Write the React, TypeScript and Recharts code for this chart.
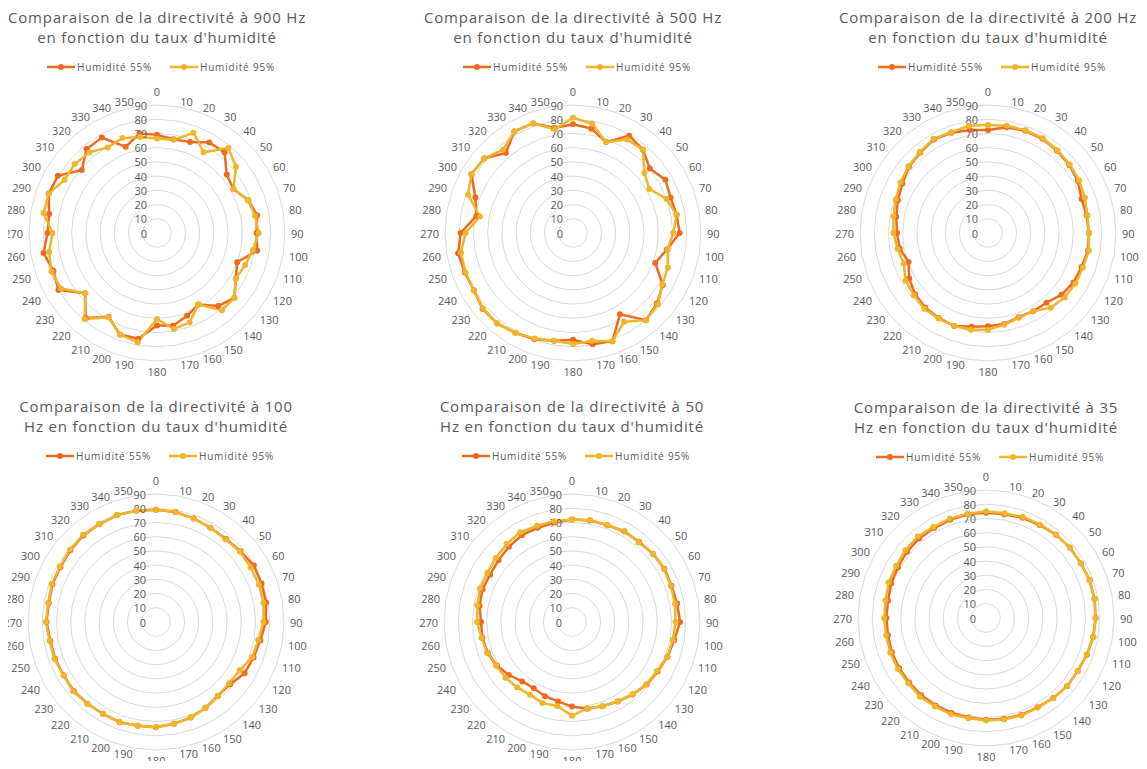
import React from "react";
import {
  RadarChart,
  Radar,
  PolarGrid,
  PolarAngleAxis,
  PolarRadiusAxis,
} from "recharts";

const ORANGE = "#EE6A1E";
const GOLD = "#EFB52B";
const TEXT = "#595959";
const GRID = "#d9d9d9";
const FONT = "'Open Sans', sans-serif";

const angleLabels = [
  "0", "10", "20", "30", "40", "50", "60", "70", "80", "90", "100", "110",
  "120", "130", "140", "150", "160", "170", "180", "190", "200", "210", "220", "230",
  "240", "250", "260", "270", "280", "290", "300", "310", "320", "330", "340", "350",
];
const radiusTicks = [0, 10, 20, 30, 40, 50, 60, 70, 80, 90];
const seriesNames = ["Humidité 55%", "Humidité 95%"];

// niveaux mesurés (dB) tous les 10°, pour chaque fréquence
const h55_900 = [69, 67, 68, 73.5, 74, 64, 62, 68, 71.5, 70, 71.5, 60, 64, 71, 67, 58, 62, 66, 65, 75.5, 76, 68, 78, 66, 80, 77.5, 81, 77, 77, 81, 80.5, 69, 77, 77.5, 64.5, 71];
const h95_900 = [66.5, 66.5, 75, 65.5, 78, 72.5, 62, 68, 70, 71.5, 68.5, 66, 64, 71, 71, 58, 67, 68.5, 60.5, 78, 76, 68.5, 79, 66, 78, 79, 77, 73.5, 81, 81, 75, 75.5, 74, 69.5, 71, 68.5];

const h55_500 = [76.5, 74.5, 68, 79, 76.5, 70.5, 75, 73, 74, 75, 67, 61.5, 73, 77, 80, 66, 81, 79.5, 75, 77, 79.5, 81, 83, 83, 80.5, 81, 82, 79, 69, 73, 82.5, 81.5, 73.5, 82.5, 82, 75];
const h95_500 = [81, 78, 68, 76, 76.5, 65.5, 62, 70, 74, 70.5, 67.5, 71, 72.5, 78, 80, 72, 81, 77, 78, 77, 79, 81, 83, 82.5, 80.5, 80.5, 80, 75.5, 66.5, 78.5, 82.5, 81.5, 76.5, 82.5, 82, 74];

const h55_200 = [72.5, 75.5, 76.5, 76.5, 75.5, 74.5, 73, 70, 70.5, 71, 71.5, 70, 69.5, 67.5, 64, 63.5, 63, 65, 65.5, 67, 69.5, 69, 68.5, 67, 64, 59.5, 63, 64, 65.5, 67.5, 69.5, 72.5, 74, 76, 75, 73.5];
const h95_200 = [76, 76.5, 77, 77, 76, 75, 74, 72.5, 71, 71, 72, 71, 71, 70.5, 68.5, 63.5, 63.5, 65.5, 68, 69, 69.5, 69.5, 69.5, 68, 67, 63, 64.5, 66.5, 67.5, 69, 71, 73, 74.5, 76.5, 75.5, 76.5];

const h55_100 = [79, 78.5, 77.5, 76.5, 76.5, 77.5, 79.4, 79, 78.6, 77.2, 74.5, 73, 72, 68, 67.7, 69.6, 71.5, 72.6, 74, 74, 75, 74.5, 75, 75.5, 75, 75.5, 75.5, 77, 76.5, 77.5, 77.5, 78.5, 79.5, 79.5, 80, 79.5];
const h95_100 = [79, 78.5, 77.5, 76.5, 76, 77, 76.8, 77, 76.8, 75.6, 73, 72, 68, 67, 67.7, 69.6, 71.5, 72.6, 74, 74, 75, 74.5, 75, 76, 75, 76, 76, 77.5, 77, 78, 78, 79, 80, 79.6, 80, 79.6];

const h55_50 = [72, 72.5, 72.5, 73.5, 73.5, 74.5, 75, 74.5, 75, 76, 73, 71.5, 69.5, 68.5, 66.5, 64.5, 63, 62, 59.5, 56.7, 55.5, 53.8, 54.5, 58, 61, 63, 64, 64, 66, 67, 66.5, 67.5, 69, 70.5, 70.5, 71];
const h95_50 = [72, 72.8, 72.6, 73.8, 73, 74.5, 74.7, 74, 73.5, 72.8, 72, 71.2, 69, 68.2, 66.3, 64.4, 63, 61.5, 66, 60, 60.7, 59, 60, 61, 61.6, 63.5, 64.6, 66.7, 67.6, 68.8, 68.8, 70, 71.6, 72.8, 72, 72];

const h55_35 = [74, 74, 75, 75.5, 76.5, 77, 77, 77.5, 77.5, 77, 76.5, 75.5, 74.5, 74.5, 73.5, 72.5, 72.5, 72, 71.5, 71, 71, 71, 71, 70.5, 70.5, 70.5, 70, 70, 70, 71, 71.5, 72.5, 73, 73, 73.5, 74];
const h95_35 = [75, 74.8, 75.6, 76, 76.7, 77, 77, 77.7, 77.5, 77.2, 76.8, 75.4, 74.4, 74.6, 73.6, 72.6, 73, 72.4, 72, 71.6, 72.1, 71.8, 72.2, 71.3, 71.6, 71.6, 71.3, 71.6, 71.7, 72.8, 73, 74, 74.7, 74, 74.4, 74.5];

type PanelProps = {
  title: string[];
  s55: number[];
  s95: number[];
  cx: number;
  cy: number;
  top: number;
  titleY: number;
  legendY: number;
};

const W = 380;
const H = 385;
const OUTER = 128;

function LegendItem({ color, label }: { color: string; label: string }) {
  return (
    <span style={{ display: "flex", alignItems: "center" }}>
      <svg width={28} height={10}>
        <line x1={0} y1={5} x2={28} y2={5} stroke={color} strokeWidth={2.5} />
        <circle cx={14} cy={5} r={3} fill={color} />
      </svg>
      <span style={{ marginLeft: 2 }}>{label}</span>
    </span>
  );
}

const marker = (color: string) => (p: any) => (
  <circle key={`${color}-${p.index}`} cx={p.cx} cy={p.cy} r={3} fill={color} />
);

function Panel({ title, s55, s95, cx, cy, top, titleY, legendY }: PanelProps) {
  const left = cx - W / 2;
  const ccx = W / 2;
  const ccy = cy - top;
  const data = angleLabels.map((a, i) => ({ angle: a, h55: s55[i], h95: s95[i] }));

  // labels sit just outside the outer ring, side ones anchored against it
  const angleTick = (p: any) => {
    const dx = p.x - ccx;
    const dy = p.y - ccy;
    const len = Math.hypot(dx, dy) || 1;
    const ux = dx / len;
    const uy = dy / len;
    const anchor = ux > 0.05 ? "start" : ux < -0.05 ? "end" : "middle";
    const r = anchor !== "middle" ? OUTER + 6 : uy < 0 ? OUTER + 14 : OUTER + 10;
    return (
      <text
        x={ccx + ux * r}
        y={ccy + uy * r}
        textAnchor={anchor}
        dominantBaseline="central"
        fontSize={11}
        fill={TEXT}
        fontFamily={FONT}
      >
        {p.payload.value}
      </text>
    );
  };

  const radiusTick = (p: any) => (
    <text
      x={p.x - 10}
      y={p.y}
      textAnchor="end"
      dominantBaseline="central"
      fontSize={11}
      fill={TEXT}
      fontFamily={FONT}
    >
      {p.payload.value}
    </text>
  );

  return (
    <div style={{ position: "absolute", left, top, width: W, height: H }}>
      <div
        style={{
          position: "absolute",
          left: 0,
          top: titleY - top - 10,
          width: W,
          textAlign: "center",
          fontSize: 15,
          lineHeight: "20px",
          letterSpacing: 0.8,
          color: TEXT,
        }}
      >
        {title.map((t) => (
          <div key={t}>{t}</div>
        ))}
      </div>
      <div
        style={{
          position: "absolute",
          left: 4,
          top: legendY - top - 7,
          width: W,
          height: 14,
          display: "flex",
          justifyContent: "center",
          gap: 18,
          fontSize: 10,
          lineHeight: "14px",
          letterSpacing: 0.8,
          color: TEXT,
        }}
      >
        <LegendItem color={ORANGE} label={seriesNames[0]} />
        <LegendItem color={GOLD} label={seriesNames[1]} />
      </div>
      <div style={{ position: "absolute", left: 0, top: 0 }}>
        <RadarChart
          width={W}
          height={H}
          cx={ccx}
          cy={ccy}
          outerRadius={OUTER}
          data={data}
          margin={{ top: 0, right: 0, bottom: 0, left: 0 }}
        >
          <PolarGrid radialLines={false} stroke={GRID} />
          <PolarAngleAxis
            dataKey="angle"
            tickLine={false}
            axisLine={false}
            tick={angleTick}
          />
          <PolarRadiusAxis
            angle={90}
            type="number"
            domain={[0, 90]}
            ticks={radiusTicks as any}
            tickCount={10}
            axisLine={false}
            tickLine={false}
            tick={radiusTick}
          />
          <Radar
            name={seriesNames[0]}
            dataKey="h55"
            stroke={ORANGE}
            strokeWidth={2.5}
            fill="none"
            fillOpacity={0}
            dot={marker(ORANGE)}
            isAnimationActive={false}
          />
          <Radar
            name={seriesNames[1]}
            dataKey="h95"
            stroke={GOLD}
            strokeWidth={2.5}
            fill="none"
            fillOpacity={0}
            dot={marker(GOLD)}
            isAnimationActive={false}
          />
        </RadarChart>
      </div>
    </div>
  );
}

export default function App() {
  return (
    <div
      style={{
        position: "relative",
        width: 1147,
        height: 769,
        margin: -8,
        overflow: "hidden",
        background: "#fff",
        fontFamily: FONT,
      }}
    >
      <Panel
        title={["Comparaison de la directivité à 900 Hz", "en fonction du taux d'humidité"]}
        s55={h55_900}
        s95={h95_900}
        cx={157}
        cy={233}
        top={0}
        titleY={16.5}
        legendY={67}
      />
      <Panel
        title={["Comparaison de la directivité à 500 Hz", "en fonction du taux d'humidité"]}
        s55={h55_500}
        s95={h95_500}
        cx={573}
        cy={233}
        top={0}
        titleY={16.5}
        legendY={67}
      />
      <Panel
        title={["Comparaison de la directivité à 200 Hz", "en fonction du taux d'humidité"]}
        s55={h55_200}
        s95={h95_200}
        cx={988}
        cy={233}
        top={0}
        titleY={16.5}
        legendY={67}
      />
      <Panel
        title={["Comparaison de la directivité à 100", "Hz en fonction du taux d'humidité"]}
        s55={h55_100}
        s95={h95_100}
        cx={156}
        cy={622}
        top={385}
        titleY={405.7}
        legendY={455.7}
      />
      <Panel
        title={["Comparaison de la directivité à 50", "Hz en fonction du taux d'humidité"]}
        s55={h55_50}
        s95={h95_50}
        cx={572}
        cy={622}
        top={385}
        titleY={405.7}
        legendY={455.7}
      />
      <Panel
        title={["Comparaison de la directivité à 35", "Hz en fonction du taux d'humidité"]}
        s55={h55_35}
        s95={h95_35}
        cx={986}
        cy={618}
        top={385}
        titleY={407}
        legendY={457}
      />
    </div>
  );
}
